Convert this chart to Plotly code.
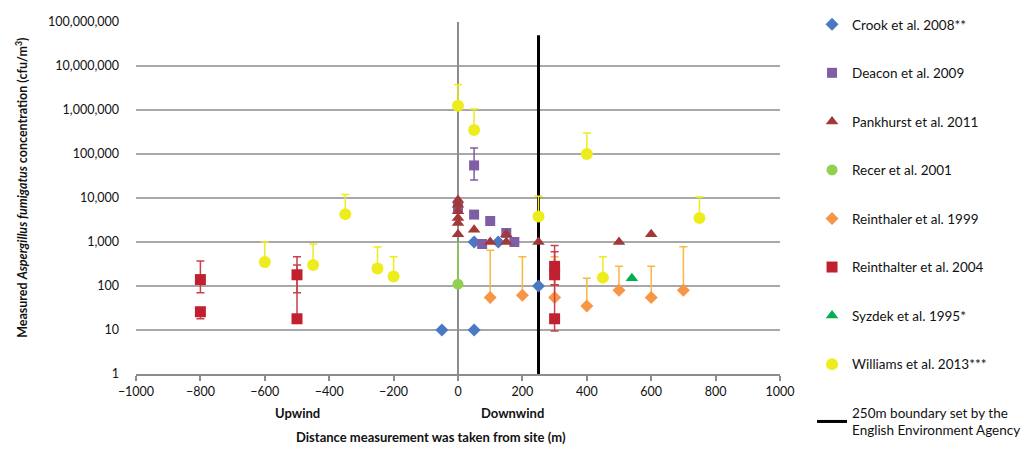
import plotly.graph_objects as go

# --- data: distance from site (m) and measured concentration (cfu/m3) ---
crook_x = [-50, 50, 50, 125, 250]
crook_y = [10, 10, 1000, 1000, 100]

deacon_x = [0, 50, 50, 75, 100, 150, 175]
deacon_y = [6300, 55000, 4200, 900, 3000, 1600, 1000]
deacon_hi = [6300, 137000, 4200, 900, 3000, 1600, 1000]
deacon_lo = [6300, 25700, 4200, 900, 3000, 1600, 1000]

pank_x = [0, 0, 0, 0, 0, 0, 50, 100, 150, 150, 250, 500, 600]
pank_y = [9000, 7000, 5000, 3500, 2700, 1500, 1900, 1000, 1500, 1000, 1000, 1000, 1500]

recer_x = [0]
recer_y = [110]
recer_hi = [1000]

rein99_x = [100, 200, 300, 400, 500, 600, 700]
rein99_y = [55, 62, 55, 35, 80, 55, 80]
rein99_hi = [650, 460, 460, 150, 280, 280, 780]

rein04_x = [-800, -800, -500, -500, 300, 300, 300]
rein04_y = [140, 26, 180, 18, 280, 180, 18]
rein04_hi = [370, 26, 465, 300, 830, 600, 105]
rein04_lo = [70, 18, 70, 18, 105, 105, 9.5]

syz_x = [540]
syz_y = [150]

will_x = [-600, -450, -350, -250, -200, 0, 50, 250, 400, 450, 750]
will_y = [350, 300, 4300, 250, 165, 1250000, 350000, 3800, 100000, 155, 3500]
will_hi = [1000, 900, 12000, 770, 460, 3800000, 1050000, 11000, 300000, 460, 10500]

boundary_x = [250, 250]
boundary_y = [1, 50000000]

y_tickvals = [1, 10, 100, 1000, 10000, 100000, 1000000, 10000000, 100000000]
y_ticktext = ["1", "10", "100", "1,000", "10,000", "100,000", "1,000,000",
              "10,000,000", "100,000,000"]
x_tickvals = list(range(-1000, 1001, 200))


def plus(y, hi):
    return [h - v for v, h in zip(y, hi)]


def minus(y, lo):
    return [v - l for v, l in zip(y, lo)]


FONT = "Lato, 'Open Sans', sans-serif"
INK = "#111111"

fig = go.Figure()

fig.add_trace(go.Scatter(
    x=boundary_x, y=boundary_y, mode="lines",
    line=dict(color="black", width=3),
    name="250m boundary set by the<br>English Environment Agency",
    legendrank=2000, legendgroup="g9"))

fig.add_trace(go.Scatter(
    x=crook_x, y=crook_y, mode="markers", name="Crook et al. 2008**",
    marker=dict(symbol="diamond", size=10, color="#4a78c2"),
    legendrank=1, legendgroup="g1"))

fig.add_trace(go.Scatter(
    x=deacon_x, y=deacon_y, mode="markers", name="Deacon et al. 2009",
    marker=dict(symbol="square", size=10, color="#7f5fa3"),
    error_y=dict(type="data", array=plus(deacon_y, deacon_hi),
                 arrayminus=minus(deacon_y, deacon_lo),
                 color="#7f5fa3", thickness=1.5, width=4),
    legendrank=2, legendgroup="g2"))

fig.add_trace(go.Scatter(
    x=pank_x, y=pank_y, mode="markers", name="Pankhurst et al. 2011",
    marker=dict(symbol="triangle-up", size=11, color="#a3383a"),
    legendrank=3, legendgroup="g3"))

fig.add_trace(go.Scatter(
    x=recer_x, y=recer_y, mode="markers", name="Recer et al. 2001",
    marker=dict(symbol="circle", size=11, color="#92d050"),
    error_y=dict(type="data", array=plus(recer_y, recer_hi), arrayminus=[0],
                 color="#92d050", thickness=1.5, width=0),
    legendrank=4, legendgroup="g4"))

fig.add_trace(go.Scatter(
    x=rein99_x, y=rein99_y, mode="markers", name="Reinthaler et al. 1999",
    marker=dict(symbol="diamond", size=10, color="#f79646"),
    error_y=dict(type="data", array=plus(rein99_y, rein99_hi),
                 arrayminus=[0] * len(rein99_y),
                 color="#f8b840", thickness=1.5, width=4),
    legendrank=5, legendgroup="g5"))

fig.add_trace(go.Scatter(
    x=rein04_x, y=rein04_y, mode="markers", name="Reinthalter et al. 2004",
    marker=dict(symbol="square", size=11, color="#c1212f"),
    error_y=dict(type="data", array=plus(rein04_y, rein04_hi),
                 arrayminus=minus(rein04_y, rein04_lo),
                 color="#c9404b", thickness=1.5, width=4),
    legendrank=6, legendgroup="g6"))

fig.add_trace(go.Scatter(
    x=syz_x, y=syz_y, mode="markers", name="Syzdek et al. 1995*",
    marker=dict(symbol="triangle-up", size=11, color="#00b050"),
    legendrank=7, legendgroup="g7"))

fig.add_trace(go.Scatter(
    x=will_x, y=will_y, mode="markers", name="Williams et al. 2013***",
    marker=dict(symbol="circle", size=12, color="#eded1e"),
    error_y=dict(type="data", array=plus(will_y, will_hi),
                 arrayminus=[0] * len(will_y),
                 color="#eded1e", thickness=1.5, width=4),
    legendrank=8, legendgroup="g8"))

fig.update_layout(
    width=1024, height=450,
    margin=dict(l=136, r=244, t=22, b=76),
    paper_bgcolor="white", plot_bgcolor="white",
    font=dict(family=FONT, size=12, color=INK),
    showlegend=True,
    legend=dict(x=0.793, xref="container", y=0.98, yref="container",
                xanchor="left", yanchor="top", maxheight=1.0,
                font=dict(family=FONT, size=13.5, color=INK),
                tracegroupgap=28, bgcolor="rgba(0,0,0,0)"),
    xaxis=dict(range=[-1000, 1000], tickvals=x_tickvals,
               showgrid=False, zeroline=True, zerolinecolor="#8c8c8c",
               zerolinewidth=2, showline=True, linecolor="#8c8c8c",
               linewidth=2, ticks="outside", ticklen=5, tickcolor="#8c8c8c",
               tickwidth=1.5, tickfont=dict(size=12.5)),
    yaxis=dict(type="log", range=[0, 8], tickvals=y_tickvals,
               ticktext=y_ticktext, showgrid=True, gridcolor="#a8a8a8",
               gridwidth=1.5, zeroline=False, showline=False, ticks="",
               ticklabelstandoff=16, tickfont=dict(size=12.5)),
)

fig.add_annotation(text="<b>Measured <i>Aspergillus fumigatus</i> concentration (cfu/m<sup>3</sup>)</b>",
                   xref="paper", yref="paper", x=-0.178, y=0.53,
                   textangle=-90, showarrow=False,
                   font=dict(family=FONT, size=12.5, color=INK),
                   xanchor="center", yanchor="middle")
fig.add_annotation(text="<b>Distance measurement was taken from site (m)</b>",
                   xref="x", yref="paper", x=-85, y=-0.179,
                   showarrow=False, font=dict(family=FONT, size=13),
                   yanchor="middle")
fig.add_annotation(text="<b>Upwind</b>", xref="x", yref="paper", x=-500,
                   y=0, yshift=-39, showarrow=False,
                   font=dict(family=FONT, size=13), yanchor="middle")
fig.add_annotation(text="<b>Downwind</b>", xref="x", yref="paper", x=170,
                   y=0, yshift=-39, showarrow=False,
                   font=dict(family=FONT, size=13), yanchor="middle")

fig.write_html("out.html")
